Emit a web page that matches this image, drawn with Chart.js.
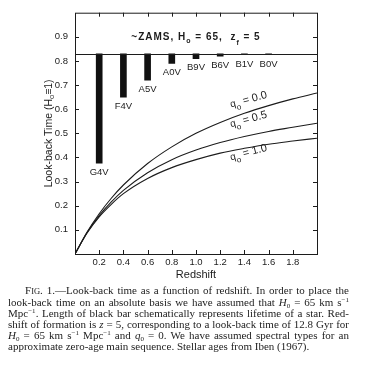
<!DOCTYPE html>
<html>
<head>
<meta charset="utf-8">
<script src="https://cdn.jsdelivr.net/npm/chart.js"></script>
<style>
  html, body { margin: 0; padding: 0; background: #fff; }
  #wrap { position: relative; width: 373px; height: 366px; overflow: hidden; }
  #chart { position: absolute; left: 0; top: 0; }
  #caption {
    position: absolute; left: 8px; top: 285px; width: 341px;
    font-family: "Liberation Serif", "Times New Roman", serif;
    font-size: 11px; line-height: 11px; color: #222;
  }
  #caption div { text-align: justify; text-align-last: justify; white-space: nowrap; }
  #caption div.first { padding-left: 17px; }
  #caption div.last { text-align-last: left; }
  #caption sup { font-size: 7px; vertical-align: 4px; line-height: 0; }
  #caption sub { font-size: 7px; vertical-align: -2px; line-height: 0; }
  .sc { font-size: 8.5px; }
</style>
</head>
<body>
<div id="wrap">
  <canvas id="chart" width="373" height="366"></canvas>
  <div id="caption">
    <div class="first"><span>F<span class="sc">IG</span>. 1.</span>—Look-back time as a function of redshift. In order to place the</div>
    <div>look-back time on an absolute basis we have assumed that <i>H</i><sub>0</sub> = 65 km s<sup>−1</sup></div>
    <div>Mpc<sup>−1</sup>. Length of black bar schematically represents lifetime of a star. Red-</div>
    <div>shift of formation is <i>z</i> = 5, corresponding to a look-back time of 12.8 Gyr for</div>
    <div><i>H</i><sub>0</sub> = 65 km s<sup>−1</sup> Mpc<sup>−1</sup> and <i>q</i><sub>0</sub> = 0. We have assumed spectral types for an</div>
    <div class="last">approximate zero-age main sequence. Stellar ages from Iben (1967).</div>
  </div>
</div>
<script>
// redshift samples for the three look-back curves
const redshift = [0, 0.1, 0.2, 0.3, 0.4, 0.6, 0.8, 1.0, 1.2, 1.4, 1.6, 1.8, 2.0];
const lookbackQ0 = [0, 0.091, 0.167, 0.231, 0.286, 0.375, 0.444, 0.5, 0.545, 0.583, 0.615, 0.643, 0.667];
const lookbackQ05 = [0, 0.089, 0.159, 0.216, 0.264, 0.337, 0.391, 0.431, 0.462, 0.487, 0.508, 0.525, 0.542];
const lookbackQ1 = [0, 0.087, 0.154, 0.206, 0.25, 0.313, 0.358, 0.391, 0.418, 0.438, 0.455, 0.468, 0.48];

// stellar lifetime bars (hang down from the formation line)
const starTypes = ['G4V', 'F4V', 'A5V', 'A0V', 'B9V', 'B6V', 'B1V', 'B0V'];
const starRedshift = [0.2, 0.4, 0.6, 0.8, 1.0, 1.2, 1.4, 1.6];
const lifetimeTop = 0.83;
const lifetimeBottom = [0.376, 0.65, 0.72, 0.79, 0.81, 0.82, 0.826, 0.829];

const curveNames = ['0.0', '0.5', '1.0'];
const xTickLabels = [0.2, 0.4, 0.6, 0.8, 1.0, 1.2, 1.4, 1.6, 1.8];
const yTickLabels = [0.1, 0.2, 0.3, 0.4, 0.5, 0.6, 0.7, 0.8, 0.9];

const FONT = '"Liberation Sans", Arial, Helvetica, sans-serif';
const INK = '#1c1c1c';

function hasTick(list, v) {
  return list.some(t => Math.abs(t - v) < 1e-6);
}

// draws text pieces, some as subscripts; returns total width
function drawPieces(ctx, pieces, x, y, measureOnly) {
  let w = 0;
  pieces.forEach(p => {
    ctx.font = p.font;
    const pw = ctx.measureText(p.t).width;
    if (!measureOnly) ctx.fillText(p.t, x + w, y + (p.dy || 0));
    w += pw + (p.gap || 0);
  });
  return w;
}

const framePlugin = {
  id: 'frame',
  afterDraw(chart) {
    const { ctx, chartArea, scales } = chart;
    const { left, right, top, bottom } = chartArea;
    const x = scales.x, y = scales.y;
    ctx.save();
    ctx.strokeStyle = INK;
    ctx.lineWidth = 1;

    // box
    ctx.strokeRect(left + 0.5, top + 0.5, right - left, bottom - top);

    // formation line
    const lineY = Math.round(y.getPixelForValue(lifetimeTop)) + 0.5;
    ctx.lineWidth = 1.2;
    ctx.beginPath();
    ctx.moveTo(left, lineY);
    ctx.lineTo(right, lineY);
    ctx.stroke();
    ctx.lineWidth = 1;

    // inward ticks on all sides
    ctx.beginPath();
    x.ticks.forEach(t => {
      if (t.value <= 0 || t.value >= 2) return;
      const px = Math.round(x.getPixelForValue(t.value)) + 0.5;
      ctx.moveTo(px, bottom); ctx.lineTo(px, bottom - 4);
      ctx.moveTo(px, top); ctx.lineTo(px, top + 4);
    });
    y.ticks.forEach(t => {
      if (t.value <= 0 || t.value >= 1) return;
      const py = Math.round(y.getPixelForValue(t.value)) + 0.5;
      ctx.moveTo(left, py); ctx.lineTo(left + 4, py);
      ctx.moveTo(right, py); ctx.lineTo(right - 4, py);
    });
    ctx.stroke();

    ctx.fillStyle = INK;
    ctx.textBaseline = 'alphabetic';

    // banner text
    ctx.letterSpacing = '1px';
    const big = 'bold 10px ' + FONT;
    const small = 'bold 7px ' + FONT;
    const banner = [
      { t: '~ZAMS, H', font: big },
      { t: 'o', font: small, dy: 3 },
      { t: ' = 65,  z', font: big },
      { t: 'f', font: small, dy: 5 },
      { t: ' = 5', font: big }
    ];
    const bw = drawPieces(ctx, banner, 0, 0, true);
    drawPieces(ctx, banner, (left + right) / 2 - bw / 2, 40, false);
    ctx.letterSpacing = '0px';

    // star type labels under each bar
    ctx.font = '9.5px ' + FONT;
    ctx.textAlign = 'center';
    ctx.textBaseline = 'top';
    starTypes.forEach((s, i) => {
      const px = x.getPixelForValue(starRedshift[i]);
      const py = Math.max(y.getPixelForValue(lifetimeBottom[i]) + 4, 59.5);
      ctx.fillText(s, px, py);
    });

    // curve labels
    ctx.textAlign = 'left';
    ctx.textBaseline = 'alphabetic';
    const labelAt = [0.607, 0.525, 0.388];
    curveNames.forEach((name, i) => {
      ctx.save();
      ctx.translate(x.getPixelForValue(1.29), y.getPixelForValue(labelAt[i]));
      ctx.rotate(-15 * Math.PI / 180);
      drawPieces(ctx, [
        { t: 'q', font: '10px ' + FONT },
        { t: 'o', font: '8px ' + FONT, dy: 4 },
        { t: ' = ' + name, font: '11px ' + FONT }
      ], 0, 0, false);
      ctx.restore();
    });

    // x title
    ctx.font = '11px ' + FONT;
    ctx.textAlign = 'center';
    ctx.textBaseline = 'middle';
    ctx.fillText('Redshift', (left + right) / 2, 275);

    // y title
    ctx.save();
    ctx.translate(49, (top + bottom) / 2);
    ctx.rotate(-Math.PI / 2);
    ctx.textBaseline = 'middle';
    ctx.textAlign = 'left';
    const ytitle = [
      { t: 'Look-back Time (H', font: '10.5px ' + FONT },
      { t: 'o', font: '7.5px ' + FONT, dy: 3 },
      { t: '\u22611)', font: '10.5px ' + FONT }
    ];
    const tw = drawPieces(ctx, ytitle, 0, 0, true);
    drawPieces(ctx, ytitle, -tw / 2, 0, false);
    ctx.restore();

    ctx.restore();
  }
};

const toXY = (ys) => redshift.map((z, i) => ({ x: z, y: ys[i] }));
const curveStyle = {
  type: 'line',
  borderColor: INK,
  borderWidth: 1.1,
  pointRadius: 0,
  fill: false,
  cubicInterpolationMode: 'monotone'
};

new Chart(document.getElementById('chart'), {
  type: 'bar',
  data: {
    datasets: [
      {
        type: 'bar',
        data: starRedshift.map((z, i) => ({ x: z, y: [lifetimeBottom[i], lifetimeTop] })),
        backgroundColor: '#111',
        borderWidth: 0,
        barThickness: 6
      },
      Object.assign({ data: toXY(lookbackQ0) }, curveStyle),
      Object.assign({ data: toXY(lookbackQ05) }, curveStyle),
      Object.assign({ data: toXY(lookbackQ1) }, curveStyle)
    ]
  },
  options: {
    responsive: false,
    animation: false,
    devicePixelRatio: 1,
    layout: { padding: { left: 0, top: 12, right: 56, bottom: 92 } },
    plugins: { legend: { display: false }, tooltip: { enabled: false } },
    scales: {
      x: {
        type: 'linear',
        min: 0,
        max: 2,
        offset: false,
        grid: { display: false, drawTicks: false, offset: false },
        border: { display: false },
        ticks: {
          stepSize: 0.2,
          autoSkip: false,
          maxRotation: 0,
          padding: 3,
          color: INK,
          font: { family: FONT, size: 9.5 },
          callback: v => hasTick(xTickLabels, v) ? v.toFixed(1) : ''
        },
        afterFit: s => { s.height = 20; }
      },
      y: {
        min: 0,
        max: 1,
        grid: { display: false, drawTicks: false },
        border: { display: false },
        ticks: {
          stepSize: 0.1,
          padding: 7,
          color: INK,
          font: { family: FONT, size: 9.5 },
          callback: v => hasTick(yTickLabels, v) ? v.toFixed(1) : ''
        },
        afterFit: s => { s.width = 75; }
      }
    }
  },
  plugins: [framePlugin]
});
</script>
</body>
</html>
